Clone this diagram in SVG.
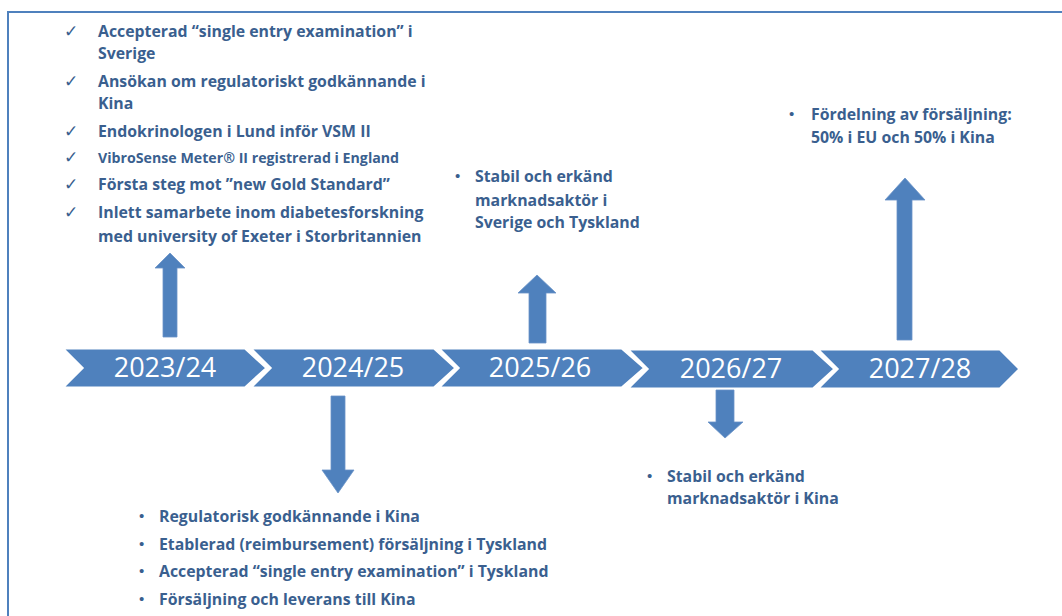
<svg xmlns="http://www.w3.org/2000/svg" width="1062" height="616" viewBox="0 0 1062 616">
<style>
.chev{fill:#4F81BD;stroke:#FFFFFF;stroke-width:3}
.yr{font-family:"Open Sans","DejaVu Sans",sans-serif;font-size:27px;fill:#FFFFFF;text-anchor:middle}
.t{font-family:"Open Sans",Lato,sans-serif;font-weight:bold;font-size:15.85px;fill:#3A5F8F}
.ts{font-family:"Open Sans",Lato,sans-serif;font-weight:bold;font-size:14.2px;fill:#3A5F8F}
.mk{font-family:"DejaVu Sans",sans-serif;font-size:17px;fill:#3A5F8F}
.bl{font-family:"Liberation Sans",sans-serif;font-size:15px;fill:#3A5F8F}
.arr{fill:#4F81BD;stroke:#6A93C8;stroke-width:0.8}
</style>
<rect width="1062" height="616" fill="#FFFFFF"/>
<path d="M8,616 V12 H1062" fill="none" stroke="#4F81BD" stroke-width="2"/>

<g id="timeline">
<g id="y2023"><path class="chev" d="M62,348 H245 L267,368 L245,388 H62 L82,368 Z"/><text class="yr" x="165" y="377">2023/24</text></g>
<g id="y2024"><path class="chev" d="M250,348 H434 L456,368 L434,388 H250 L270,368 Z"/><text class="yr" x="353" y="377">2024/25</text></g>
<g id="y2025"><path class="chev" d="M438,348 H622 L645,368 L622,388 H438 L458,368 Z"/><text class="yr" x="540" y="377">2025/26</text></g>
<g id="y2026"><path class="chev" d="M627,349 H813 L835,369 L813,389 H627 L647,369 Z"/><text class="yr" x="731" y="378">2026/27</text></g>
<g id="y2027"><path class="chev" d="M817,349 H1000 L1020,369 L1000,389 H817 L837,369 Z"/><text class="yr" x="920" y="378">2027/28</text></g>
</g>

<g id="connectors">
<path class="arr" d="M163,337 V268 H155 L170,253 L185,268 H177 V337 Z"/>
<path class="arr" d="M331,396 V470 H322 L338,493 L354,470 H345 V396 Z"/>
<path class="arr" d="M529,343 V293 H518 L537,275 L556,293 H546 V343 Z"/>
<path class="arr" d="M716,390 V422 H708 L725,438 L743,422 H734 V390 Z"/>
<path class="arr" d="M897,340 V200 H885 L905,178 L925,200 H912 V340 Z"/>
</g>

<g id="block2023">
<text class="mk" x="64" y="37">✓</text><text class="t" x="98" y="37">Accepterad “single entry examination” i</text>
<text class="t" x="98" y="59">Sverige</text>
<text class="mk" x="64" y="87">✓</text><text class="t" x="98" y="87">Ansökan om regulatoriskt godkännande i</text>
<text class="t" x="98" y="109">Kina</text>
<text class="mk" x="64" y="137">✓</text><text class="t" x="98" y="137">Endokrinologen i Lund inför VSM II</text>
<text class="mk" x="64" y="163">✓</text><text class="ts" x="98" y="163">VibroSense Meter® II registrerad i England</text>
<text class="mk" x="64" y="190">✓</text><text class="t" x="98" y="190">Första steg mot ”new Gold Standard”</text>
<text class="mk" x="64" y="218">✓</text><text class="t" x="98" y="218">Inlett samarbete inom diabetesforskning</text>
<text class="t" x="98" y="242">med university of Exeter i Storbritannien</text>
</g>

<g id="block2024">
<text class="bl" x="139" y="521">•</text><text class="t" x="159" y="522">Regulatorisk godkännande i Kina</text>
<text class="bl" x="139" y="549">•</text><text class="t" x="159" y="550">Etablerad (reimbursement) försäljning i Tyskland</text>
<text class="bl" x="139" y="576">•</text><text class="t" x="159" y="577">Accepterad “single entry examination” i Tyskland</text>
<text class="bl" x="139" y="604">•</text><text class="t" x="159" y="605">Försäljning och leverans till Kina</text>
</g>

<g id="block2025">
<text class="bl" x="455" y="181">•</text><text class="t" x="475" y="182">Stabil och erkänd</text>
<text class="t" x="475" y="206">marknadsaktör i</text>
<text class="t" x="475" y="228">Sverige och Tyskland</text>
</g>

<g id="block2026">
<text class="bl" x="647" y="481">•</text><text class="t" x="667" y="482">Stabil och erkänd</text>
<text class="t" x="667" y="504">marknadsaktör i Kina</text>
</g>

<g id="block2027">
<text class="bl" x="789" y="119">•</text><text class="t" x="811" y="120">Fördelning av försäljning:</text>
<text class="t" x="811" y="143">50% i EU och 50% i Kina</text>
</g>
</svg>
